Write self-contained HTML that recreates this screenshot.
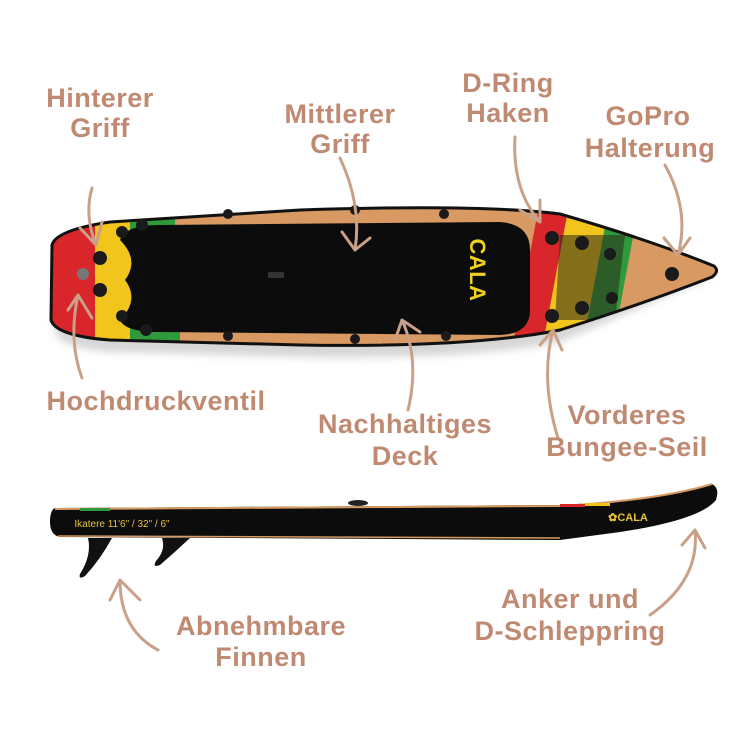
<!DOCTYPE html>
<html><head><meta charset="utf-8"><style>
html,body{margin:0;padding:0;background:#fff;}
svg{display:block}
text{font-family:"Liberation Sans",sans-serif;font-weight:bold;fill:#c08a72;font-size:27px;text-anchor:middle;letter-spacing:0.5px}
.a{fill:none;stroke:#c9a088;stroke-width:3;stroke-linecap:round;stroke-linejoin:round}
</style></head><body>
<svg width="750" height="750" viewBox="0 0 750 750">
<defs>
<clipPath id="top"><path d="M52,245 Q56,230 110,222 L300,210 Q480,204 560,214 Q650,240 714,266 Q720,271 712,277 Q640,305 560,330 Q470,348 300,345 L110,340 Q56,336 51,320 Z"/></clipPath>
<filter id="sh"><feGaussianBlur stdDeviation="4"/></filter>
</defs>
<path d="M55,255 Q60,240 112,232 L300,220 Q480,214 560,224 Q650,250 714,276 L560,342 Q470,360 300,357 L110,352 Q58,348 54,330 Z" fill="#bbb" filter="url(#sh)" opacity="0.6"/>
<g clip-path="url(#top)">
<rect x="40" y="200" width="690" height="160" fill="#d89a62"/>
<rect x="40" y="200" width="60" height="160" fill="#d8262a"/>
<rect x="95" y="200" width="40" height="160" fill="#f1c51b"/>
<polygon points="130,200 175,200 175,245 130,245" fill="#2f9a3b"/>
<polygon points="130,310 180,310 180,360 130,360" fill="#2f9a3b"/>
<polygon points="540,200 570,200 540,360 510,360" fill="#d8262a"/>
<polygon points="570,200 610,200 580,360 540,360" fill="#f1c51b"/>
<polygon points="610,200 640,200 610,360 580,360" fill="#2f9a3b"/>
<path d="M560,235 L625,235 L615,320 L555,320 Z" fill="#2a2a1a" opacity="0.55"/>
<path d="M120,240 Q125,225 160,225 L500,222 Q530,224 530,250 L530,310 Q530,334 500,335 L160,332 Q125,332 120,320 Q140,300 125,280 Q140,260 120,240 Z" fill="#0c0c0c"/>
</g>
<path d="M52,245 Q56,230 110,222 L300,210 Q480,204 560,214 Q650,240 714,266 Q720,271 712,277 Q640,305 560,330 Q470,348 300,345 L110,340 Q56,336 51,320 Z" fill="none" stroke="#111" stroke-width="3"/>
<g fill="#1a1a1a">
<circle cx="100" cy="258" r="7"/><circle cx="100" cy="290" r="7"/><circle cx="83" cy="274" r="6" fill="#777"/>
<circle cx="122" cy="232" r="6"/><circle cx="142" cy="225" r="6"/><circle cx="122" cy="316" r="6"/><circle cx="146" cy="330" r="6"/>
<circle cx="228" cy="214" r="5"/><circle cx="355" cy="210" r="5"/><circle cx="228" cy="336" r="5"/><circle cx="355" cy="339" r="5"/>
<circle cx="444" cy="214" r="5"/><circle cx="446" cy="336" r="5"/>
<circle cx="552" cy="238" r="7"/><circle cx="582" cy="243" r="7"/><circle cx="610" cy="254" r="6"/><circle cx="612" cy="298" r="6"/><circle cx="582" cy="308" r="7"/><circle cx="552" cy="316" r="7"/>
<circle cx="672" cy="274" r="7"/>
</g>
<text x="470" y="270" style="fill:#f0d21c;font-size:22px" transform="rotate(90 470 270)">CALA</text>
<rect x="268" y="272" width="16" height="6" fill="#333"/>
<path d="M58,520 L560,520 Q640,515 700,495" fill="none" stroke="#aaa" stroke-width="10" filter="url(#sh)" opacity="0.5"/>
<path d="M55,508 L560,505 Q660,500 712,484 Q720,488 716,500 Q700,520 620,532 L560,540 L60,537 Q50,535 50,522 Q50,510 55,508 Z" fill="#0c0c0c"/>
<path d="M55,509 L560,506 Q660,500 712,484" fill="none" stroke="#d89a62" stroke-width="2"/>
<path d="M58,536 L560,538" stroke="#d89a62" stroke-width="1.5"/>
<rect x="80" y="508" width="30" height="3" fill="#2f9a3b"/>
<rect x="560" y="504" width="25" height="3" fill="#d8262a"/>
<rect x="585" y="503" width="25" height="3" fill="#f1c51b"/>
<ellipse cx="358" cy="503" rx="10" ry="3" fill="#222"/>
<text x="122" y="527" style="fill:#e6c23a;font-size:10px;font-weight:normal;letter-spacing:0">Ikatere 11'6" / 32" / 6"</text>
<text x="628" y="521" style="fill:#e6c23a;font-size:11px;letter-spacing:0">✿CALA</text>
<path d="M88,538 L112,538 Q100,560 85,576 Q78,580 80,574 Q92,555 88,538 Z" fill="#111"/>
<path d="M162,538 L190,538 Q175,552 160,565 Q152,568 156,561 Q166,550 162,538 Z" fill="#111"/>
<path class="a" d="M92,188 Q84,215 96,245 M80,228 L96,245 L102,222"/>
<path class="a" d="M340,158 Q362,205 355,250 M342,232 L355,250 L370,238"/>
<path class="a" d="M515,137 Q512,190 540,222 M520,210 L540,222 L540,200"/>
<path class="a" d="M665,165 Q690,210 678,255 M664,238 L678,255 L690,238"/>
<path class="a" d="M82,378 Q68,340 78,295 M68,310 L78,295 L92,318"/>
<path class="a" d="M408,410 Q420,360 402,320 M395,340 L402,320 L420,332"/>
<path class="a" d="M558,438 Q540,380 553,330 M540,345 L553,330 L562,350"/>
<path class="a" d="M158,650 Q120,630 120,580 M110,600 L120,580 L140,600"/>
<path class="a" d="M650,615 Q700,580 695,530 M682,545 L695,530 L705,548"/>
<text x="100" y="107">Hinterer</text><text x="100" y="137">Griff</text>
<text x="340" y="123">Mittlerer</text><text x="340" y="153">Griff</text>
<text x="508" y="92">D-Ring</text><text x="508" y="122">Haken</text>
<text x="648" y="125">GoPro</text><text x="650" y="157">Halterung</text>
<text x="156" y="410">Hochdruckventil</text>
<text x="405" y="433">Nachhaltiges</text><text x="405" y="465">Deck</text>
<text x="627" y="424">Vorderes</text><text x="627" y="456">Bungee-Seil</text>
<text x="261" y="635">Abnehmbare</text><text x="261" y="666">Finnen</text>
<text x="570" y="608">Anker und</text><text x="570" y="640">D-Schleppring</text>
</svg>
</body></html>
